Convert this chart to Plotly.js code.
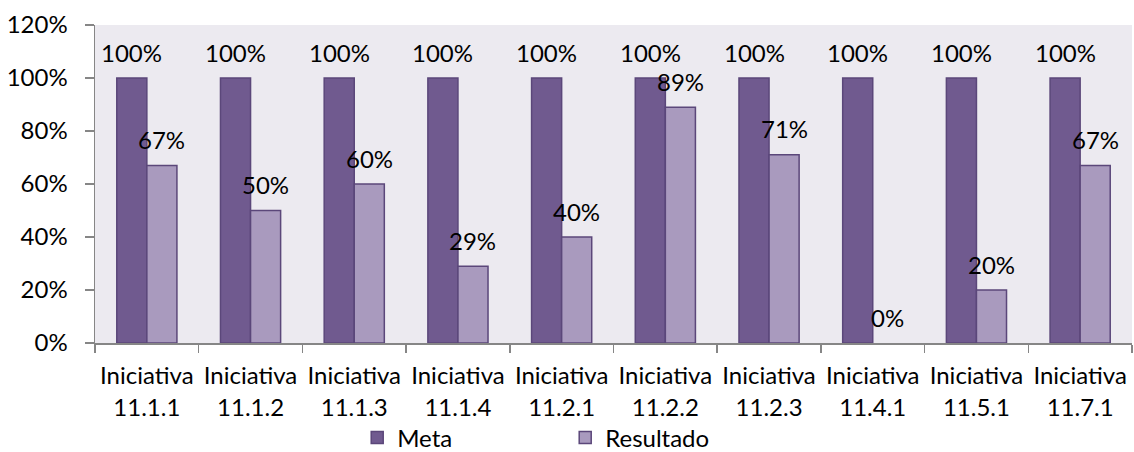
<!DOCTYPE html>
<html>
<head>
<meta charset="utf-8">
<script src="https://cdn.plot.ly/plotly-3.0.1.min.js"></script>
<style>html,body{margin:0;padding:0;background:#fff;}#chart{width:1134px;height:452px;}</style>
</head>
<body>
<div id="chart"></div>
<script>
var categories = ["Iniciativa<br>11.1.1","Iniciativa<br>11.1.2","Iniciativa<br>11.1.3","Iniciativa<br>11.1.4","Iniciativa<br>11.2.1","Iniciativa<br>11.2.2","Iniciativa<br>11.2.3","Iniciativa<br>11.4.1","Iniciativa<br>11.5.1","Iniciativa<br>11.7.1"];
var meta = [1,1,1,1,1,1,1,1,1,1];
var resultado = [0.67,0.50,0.60,0.29,0.40,0.89,0.71,0.00,0.20,0.67];
var metaLabels = ["100%","100%","100%","100%","100%","100%","100%","100%","100%","100%"];
var resultadoLabels = ["67%","50%","60%","29%","40%","89%","71%","0%","20%","67%"];
var yTicks = [0,0.2,0.4,0.6,0.8,1.0,1.2];

var FONT = "Lato, 'Open Sans', sans-serif";
var FS = 24;
var bargap = 0.42;
var off = (1 - bargap) / 4;

var traces = [
  {type:"bar", name:"Meta", x:categories, y:meta,
   marker:{color:"#705A8F", line:{color:"#5B477A", width:meta.map(function(v){return v > 0 ? 1.5 : 0;})}}, hoverinfo:"y"},
  {type:"bar", name:"Resultado", x:categories, y:resultado,
   marker:{color:"#A99ABE", line:{color:"#5B477A", width:resultado.map(function(v){return v > 0 ? 1.5 : 0;})}}, hoverinfo:"y"}
];

var annotations = [];
for (var i = 0; i < categories.length; i++) {
  annotations.push({x:i - off, y:meta[i], xref:"x", yref:"y", text:metaLabels[i], showarrow:false,
    yshift:26, yanchor:"middle", xanchor:"center", font:{family:FONT, size:FS, color:"#000"}});
  annotations.push({x:i + off, y:resultado[i], xref:"x", yref:"y", text:resultadoLabels[i], showarrow:false,
    yshift:26, yanchor:"middle", xanchor:"center", font:{family:FONT, size:FS, color:"#000"}});
}

var layout = {
  width:1134, height:452,
  margin:{l:95, r:2, t:25, b:109},
  paper_bgcolor:"#FFFFFF",
  plot_bgcolor:"#ECEAF0",
  barmode:"group",
  bargap:bargap,
  bargroupgap:0,
  font:{family:FONT, size:FS, color:"#000"},
  xaxis:{type:"category", showgrid:false, showline:true, linecolor:"#868686", linewidth:1.5,
    ticks:"outside", tickson:"boundaries", ticklen:8, tickcolor:"#868686", tickwidth:1.5,
    tickangle:0, ticklabelstandoff:11, tickfont:{family:FONT, size:FS, color:"#000"}, automargin:false},
  yaxis:{range:[0,1.2], tickvals:yTicks, tickformat:".0%", showgrid:false, zeroline:false,
    showline:true, linecolor:"#868686", linewidth:1.5, ticks:"outside", ticklen:9,
    tickcolor:"#868686", tickwidth:1.5, ticklabelstandoff:12,
    tickfont:{family:FONT, size:FS, color:"#000"}, automargin:false},
  showlegend:true,
  legend:{orientation:"h", xref:"container", yref:"container", x:0.315, xanchor:"left", y:0.031, yanchor:"middle",
    entrywidth:163, entrywidthmode:"pixels", itemwidth:30,
    font:{family:FONT, size:FS, color:"#000"}, bgcolor:"rgba(0,0,0,0)"},
  annotations:annotations
};

Plotly.newPlot("chart", traces, layout, {displayModeBar:false, staticPlot:true});
</script>
</body>
</html>
